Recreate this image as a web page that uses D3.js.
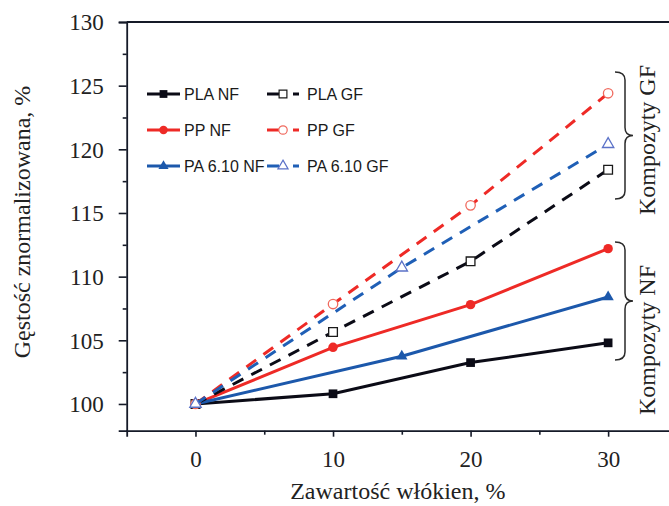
<!DOCTYPE html>
<html>
<head>
<meta charset="utf-8">
<script src="https://cdn.jsdelivr.net/npm/d3@7"></script>
<style>
  html, body { margin: 0; padding: 0; background: #fff; }
  svg { display: block; }
  .serif { font-family: "Liberation Serif", "Times New Roman", serif; fill: #222; }
  .sans { font-family: "Liberation Sans", Arial, sans-serif; fill: #1a1a1a; }
</style>
</head>
<body>
<svg id="chart" width="669" height="506"></svg>
<script>
// Fibre content (%) at which each composite was measured
const xNF = [0, 10, 20, 30];
const xPA = [0, 15, 30];

// Normalised density, % (neat polymer = 100)
const plaNF = [100, 100.8, 103.25, 104.8];
const ppNF  = [100, 104.45, 107.8, 112.2];
const paNF  = [100, 103.75, 108.4];
const plaGF = [100, 105.65, 111.2, 118.4];
const ppGF  = [100, 107.85, 115.6, 124.4];
const paGF  = [100, 110.7, 120.4];

// Axis ticks
const xTicks = [0, 10, 20, 30];
const xMinorTicks = [5, 15, 25];
const yTicks = [100, 105, 110, 115, 120, 125, 130];
const yMinorTicks = [102.5, 107.5, 112.5, 117.5, 122.5, 127.5];

const xTitle = "Zawartość włókien, %";
const yTitle = "Gęstość znormalizowana, %";

const series = [
  { name: "PLA NF",     xs: xNF, ys: plaNF, color: "#0b0b16", shape: "square",   open: false },
  { name: "PP NF",      xs: xNF, ys: ppNF,  color: "#ee2a26", shape: "circle",   open: false },
  { name: "PA 6.10 NF", xs: xPA, ys: paNF,  color: "#1c58ab", shape: "triangle", open: false },
  { name: "PLA GF",     xs: xNF, ys: plaGF, color: "#0b0b16", shape: "square",   open: true, mstroke: "#1a1a1a" },
  { name: "PP GF",      xs: xNF, ys: ppGF,  color: "#ee2a26", shape: "circle",   open: true, mstroke: "#f06a5e" },
  { name: "PA 6.10 GF", xs: xPA, ys: paGF,  color: "#1f5fb6", shape: "triangle", open: true, mstroke: "#5b72c8" }
];

const svg = d3.select("#chart");

const x = d3.scaleLinear().domain([-5, 35]).range([126.7, 676.9]);
const y = d3.scaleLinear().domain([97.9, 130]).range([430.7, 22]);

const axisColor = "#151a28";

// Marker factory
const symbolOf = {
  square: d3.symbolSquare,
  circle: d3.symbolCircle,
  triangle: d3.symbolTriangle
};
function markerPath(shape, scale) {
  const sizes = { square: 76, circle: 70, triangle: 56 };
  return d3.symbol().type(symbolOf[shape]).size(sizes[shape] * scale)();
}

// Axes: major ticks with labels, minor ticks without
const gx = svg.append("g").attr("transform", `translate(0,${y.range()[0]})`);
gx.call(d3.axisBottom(x).tickValues(xTicks).tickSize(6).tickPadding(14).tickFormat(d3.format("d")));
gx.append("g").call(d3.axisBottom(x).tickValues(xMinorTicks).tickSize(4).tickFormat(""))
  .select(".domain").remove();

const gy = svg.append("g").attr("transform", `translate(${x.range()[0]},0)`);
gy.call(d3.axisLeft(y).tickValues(yTicks).tickSize(8).tickPadding(15).tickFormat(d3.format("d")));
gy.append("g").call(d3.axisLeft(y).tickValues(yMinorTicks).tickSize(4).tickFormat(""))
  .select(".domain").remove();

svg.selectAll(".domain").attr("stroke", axisColor).attr("stroke-width", 1.8);
svg.selectAll(".tick line").attr("stroke", axisColor).attr("stroke-width", 1.6);
svg.selectAll(".tick text")
  .attr("class", "serif")
  .style("font-size", "23px")
  .attr("fill", "#222");
gx.selectAll(".tick text").attr("dy", "0.72em");
gy.selectAll(".tick text").attr("dy", "0.34em");

// Top frame line
svg.append("line")
  .attr("x1", x.range()[0]).attr("x2", x.range()[1])
  .attr("y1", y(130)).attr("y2", y(130))
  .attr("stroke", axisColor).attr("stroke-width", 1.8);

// Series lines and markers
const line = d3.line().x(d => x(d[0])).y(d => y(d[1]));
series.forEach(s => {
  const pts = s.xs.map((v, i) => [v, s.ys[i]]);
  svg.append("path")
    .datum(pts)
    .attr("d", line)
    .attr("fill", "none")
    .attr("stroke", s.color)
    .attr("stroke-width", 3)
    .attr("stroke-dasharray", s.open ? "12,9" : null);
  svg.append("g").selectAll("path")
    .data(pts)
    .join("path")
    .attr("transform", d => `translate(${x(d[0])},${y(d[1])})`)
    .attr("d", markerPath(s.shape, 1))
    .attr("fill", s.open ? "#fff" : s.color)
    .attr("stroke", s.open ? s.mstroke : "none")
    .attr("stroke-width", 1.3);
});

// Legend
const legendRows = [94, 130, 166];
const legendCols = [
  { x0: 147, x1: 180, mx: 163.5, tx: 184 },
  { x0: 267, x1: 299, mx: 283,   tx: 307 }
];
series.forEach((s, i) => {
  const col = legendCols[s.open ? 1 : 0];
  const ry = legendRows[i % 3];
  const g = svg.append("g");
  g.append("line")
    .attr("x1", col.x0).attr("x2", col.x1)
    .attr("y1", ry).attr("y2", ry)
    .attr("stroke", s.color).attr("stroke-width", 3)
    .attr("stroke-dasharray", s.open ? "12,14,6" : null);
  g.append("path")
    .attr("transform", `translate(${col.mx},${ry})`)
    .attr("d", markerPath(s.shape, 0.8))
    .attr("fill", s.open ? "#fff" : s.color)
    .attr("stroke", s.open ? s.mstroke : "none")
    .attr("stroke-width", 1.2);
  g.append("text")
    .attr("class", "sans")
    .attr("x", col.tx).attr("y", ry + 6)
    .style("font-size", "16px")
    .text(s.name);
});

// Group braces on the right
function brace(xl, xs, xc, y0, y1) {
  const ym = (y0 + y1) / 2, r = 8;
  return `M${xl},${y0} Q${xs},${y0} ${xs},${y0 + r} L${xs},${ym - r} Q${xs},${ym} ${xc},${ym}` +
         ` Q${xs},${ym} ${xs},${ym + r} L${xs},${y1 - r} Q${xs},${y1} ${xl},${y1}`;
}
const braces = [
  { label: "Kompozyty GF", y0: 72, y1: 199, ty: 140 },
  { label: "Kompozyty NF", y0: 242, y1: 360, ty: 340 }
];
braces.forEach(b => {
  svg.append("path")
    .attr("d", brace(615, 625, 633, b.y0, b.y1))
    .attr("fill", "none")
    .attr("stroke", "#2a2a2a")
    .attr("stroke-width", 1.5);
  svg.append("text")
    .attr("class", "serif")
    .attr("transform", `translate(655,${b.ty}) rotate(-90)`)
    .attr("text-anchor", "middle")
    .style("font-size", "24px")
    .text(b.label);
});

// Axis titles
svg.append("text")
  .attr("class", "serif")
  .attr("x", (x.range()[0] + 669) / 2).attr("y", 499)
  .attr("text-anchor", "middle")
  .style("font-size", "24px")
  .text(xTitle);

svg.append("text")
  .attr("class", "serif")
  .attr("transform", "translate(30,222) rotate(-90)")
  .attr("text-anchor", "middle")
  .style("font-size", "24px")
  .text(yTitle);
</script>
</body>
</html>
